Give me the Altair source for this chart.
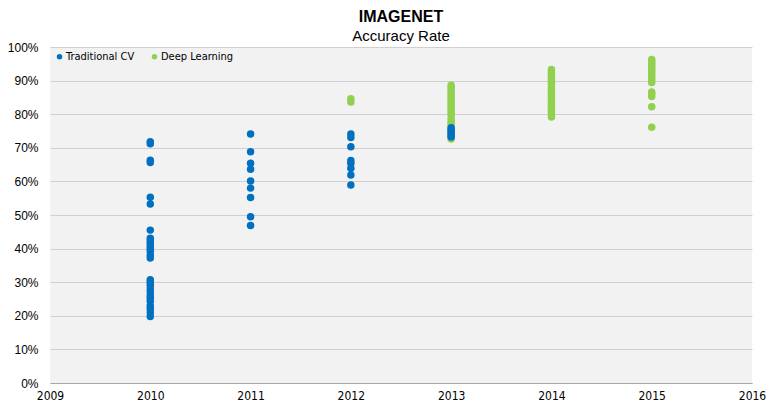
import altair as alt
import pandas as pd

years = [2010, 2011, 2012, 2013, 2014, 2015]

trad_2010 = [71.8, 71.2, 66.3, 65.6, 55.3, 53.3, 45.5, 43.1, 42.3, 41.6, 40.8, 40.1,
             39.2, 38.0, 37.2, 30.7, 30.0, 29.1, 28.0, 27.1, 26.0, 25.2, 24.3, 23.0,
             22.1, 21.0, 19.8]
trad_2011 = [74.1, 68.8, 65.4, 63.6, 60.1, 58.0, 55.2, 49.5, 46.9]
trad_2012 = [74.1, 73.1, 70.3, 66.2, 65.4, 63.9, 61.9, 58.9]
trad_2013 = [76.0, 75.3, 74.6, 73.9, 73.2]

dl_2012 = [84.6, 83.6]
dl_2013 = [88.6, 88.0, 87.3, 86.6, 85.9, 85.1, 84.4, 83.6, 82.9, 82.1, 81.4, 80.6,
           79.8, 78.9, 78.0, 77.2, 76.5, 75.6, 74.8, 74.0, 73.2, 72.6]
dl_2014 = [93.3, 92.6, 91.9, 91.2, 90.5, 89.8, 89.1, 88.4, 87.7, 87.0, 86.3, 85.6,
           84.9, 84.2, 83.5, 82.8, 82.1, 81.4, 80.7, 80.0, 79.2]
dl_2015 = [96.3, 95.8, 95.2, 94.6, 94.0, 93.3, 92.6, 91.8, 91.0, 90.2, 89.4, 86.6,
           86.0, 85.3, 82.2, 76.1]

rows = []
for yr, vals in [(2012, dl_2012), (2013, dl_2013), (2014, dl_2014), (2015, dl_2015)]:
    for v in vals:
        rows.append({"year": yr, "acc": v / 100, "series": "Deep Learning", "order": 0})
for yr, vals in [(2010, trad_2010), (2011, trad_2011), (2012, trad_2012), (2013, trad_2013)]:
    for v in vals:
        rows.append({"year": yr, "acc": v / 100, "series": "Traditional CV", "order": 1})
df = pd.DataFrame(rows)

chart = alt.Chart(df).mark_circle(size=56, opacity=1).encode(
    x=alt.X("year:Q", scale=alt.Scale(domain=[2009, 2016], nice=False, zero=False),
            axis=alt.Axis(values=list(range(2009, 2017)), format="d", title=None,
                          grid=False, ticks=False, domainColor="#a6a6a6",
                          labelFlush=False,
                          labelFont="DejaVu Sans Condensed", labelFontSize=12,
                          labelColor="#000000", labelPadding=7)),
    y=alt.Y("acc:Q", scale=alt.Scale(domain=[0, 1], nice=False),
            axis=alt.Axis(values=[i / 10 for i in range(11)], format=".0%", title=None,
                          grid=True, gridColor="#d0d0d0", ticks=False, domain=False,
                          labelFont="Liberation Sans", labelFontSize=12,
                          labelColor="#000000", labelPadding=12)),
    color=alt.Color("series:N",
                    scale=alt.Scale(domain=["Traditional CV", "Deep Learning"],
                                    range=["#0070C0", "#92D050"]),
                    legend=alt.Legend(title=None, orient="none", legendX=4, legendY=4,
                                      direction="horizontal", symbolType="circle",
                                      symbolSize=30, labelFontSize=11,
                                      labelFont="DejaVu Sans Condensed",
                                      labelColor="#000000", columnPadding=14,
                                      labelOffset=1)),
    order=alt.Order("order:Q"),
).properties(
    width=702, height=336,
    title=alt.TitleParams("IMAGENET", subtitle="Accuracy Rate", anchor="middle",
                          frame="group", font="Liberation Sans", fontSize=16,
                          fontWeight="bold", subtitleFont="Liberation Sans",
                          subtitleFontSize=15, subtitleColor="#000000",
                          color="#000000", offset=-3, subtitlePadding=4),
    autosize=alt.AutoSizeParams(type="none"),
    padding={"left": 42, "top": 39, "right": 16, "bottom": 19},
).configure_view(fill="#f2f2f2", stroke=None)

chart.save("out.html", embed_options={"renderer": "svg", "actions": False})
